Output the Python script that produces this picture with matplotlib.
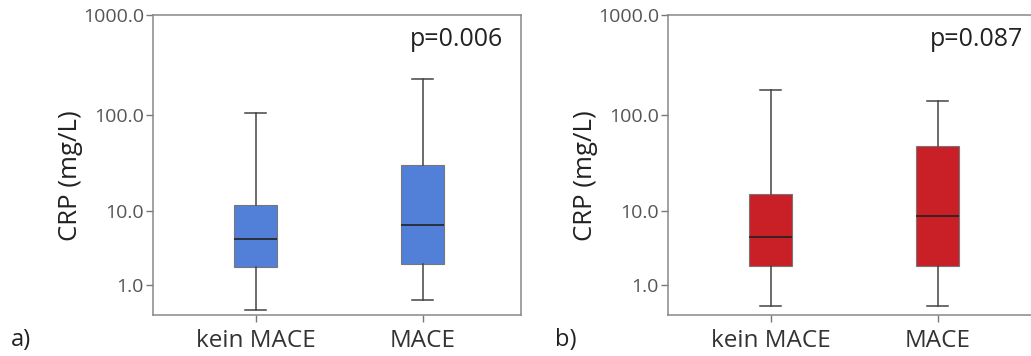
import numpy as np
import matplotlib
matplotlib.use("Agg")
import matplotlib.pyplot as plt
import matplotlib.transforms as mtransforms

plt.rcParams['font.family'] = ['Open Sans', 'DejaVu Sans']

# CRP (mg/L) box plot stats
groups = ['kein MACE', 'MACE']
# panel a
a_low = [0.11, 0.42]
a_q1 = [2.0, 2.2]
a_med = [4.8, 6.9]
a_q3 = [11.5, 31.0]
a_high = [103.0, 230.0]
a_p = 'p=0.006'
# panel b
b_low = [0.24, 0.24]
b_q1 = [2.1, 2.1]
b_med = [5.0, 8.7]
b_q3 = [15.2, 48.0]
b_high = [175.0, 138.0]
b_p = 'p=0.087'

yticks = [1, 10, 100, 1000]
yticklabels = ['1.0', '10.0', '100.0', '1000.0']


def fwd(x):
    return np.log10(np.clip(x, 0, None) + 1)


def inv(y):
    return 10 ** y - 1


def panel(ax, low, q1, med, q3, high, color, ptxt, px, letter, lx):
    stats = []
    for i in range(len(groups)):
        stats.append({'whislo': low[i], 'q1': q1[i], 'med': med[i],
                      'q3': q3[i], 'whishi': high[i], 'fliers': []})
    ax.bxp(stats, positions=[0, 1], widths=0.26, patch_artist=True,
           showfliers=False, capwidths=0.13,
           boxprops=dict(facecolor=color, edgecolor='#777777', linewidth=0.8),
           medianprops=dict(color='#222222', linewidth=1.2),
           whiskerprops=dict(color='#444444', linewidth=1.1),
           capprops=dict(color='#444444', linewidth=1.1))
    ax.set_yscale('function', functions=(fwd, inv))
    ax.set_ylim(0, 1000)
    ax.set_xlim(-0.615, 1.59)
    ax.set_yticks(yticks)
    ax.set_yticklabels(yticklabels)
    ax.minorticks_off()
    ax.set_xticks([0, 1])
    ax.set_xticklabels(groups, fontsize=17.5, color='#333333')
    # labels sit a little left of the tick in the original
    shift = mtransforms.ScaledTranslation(-6 / 100, 0, fig.dpi_scale_trans)
    for lab in ax.get_xticklabels():
        lab.set_transform(lab.get_transform() + shift)
    ax.tick_params(axis='y', labelsize=14, labelcolor='#555555',
                   color='#777777', length=5, width=1, pad=1.5)
    ax.tick_params(axis='x', color='#777777', length=5, width=1, pad=5)
    for s in ax.spines.values():
        s.set_color('#888888')
        s.set_linewidth(1.1)
    ax.set_ylabel('CRP (mg/L)', fontsize=18.5, color='#222222')
    ax.yaxis.set_label_coords(-0.19, 0.465)
    ax.text(px, 0.92, ptxt, transform=ax.transAxes, ha='right', va='center',
            fontsize=18, color='#222222')
    ax.text(lx, -0.085, letter, transform=ax.transAxes, ha='left',
            va='center', fontsize=17, color='#222222')


fig = plt.figure(figsize=(10.31, 3.56), dpi=100)
ax1 = fig.add_axes([153 / 1031, 41 / 356, 368 / 1031, 300 / 356])
ax2 = fig.add_axes([668 / 1031, 41 / 356, 368 / 1031, 300 / 356])

panel(ax1, a_low, a_q1, a_med, a_q3, a_high, '#527fd8', a_p, 0.951, 'a)', -0.385)
panel(ax2, b_low, b_q1, b_med, b_q3, b_high, '#c92027', b_p, 0.965, 'b)', -0.307)

fig.savefig('out.png', dpi=100)
